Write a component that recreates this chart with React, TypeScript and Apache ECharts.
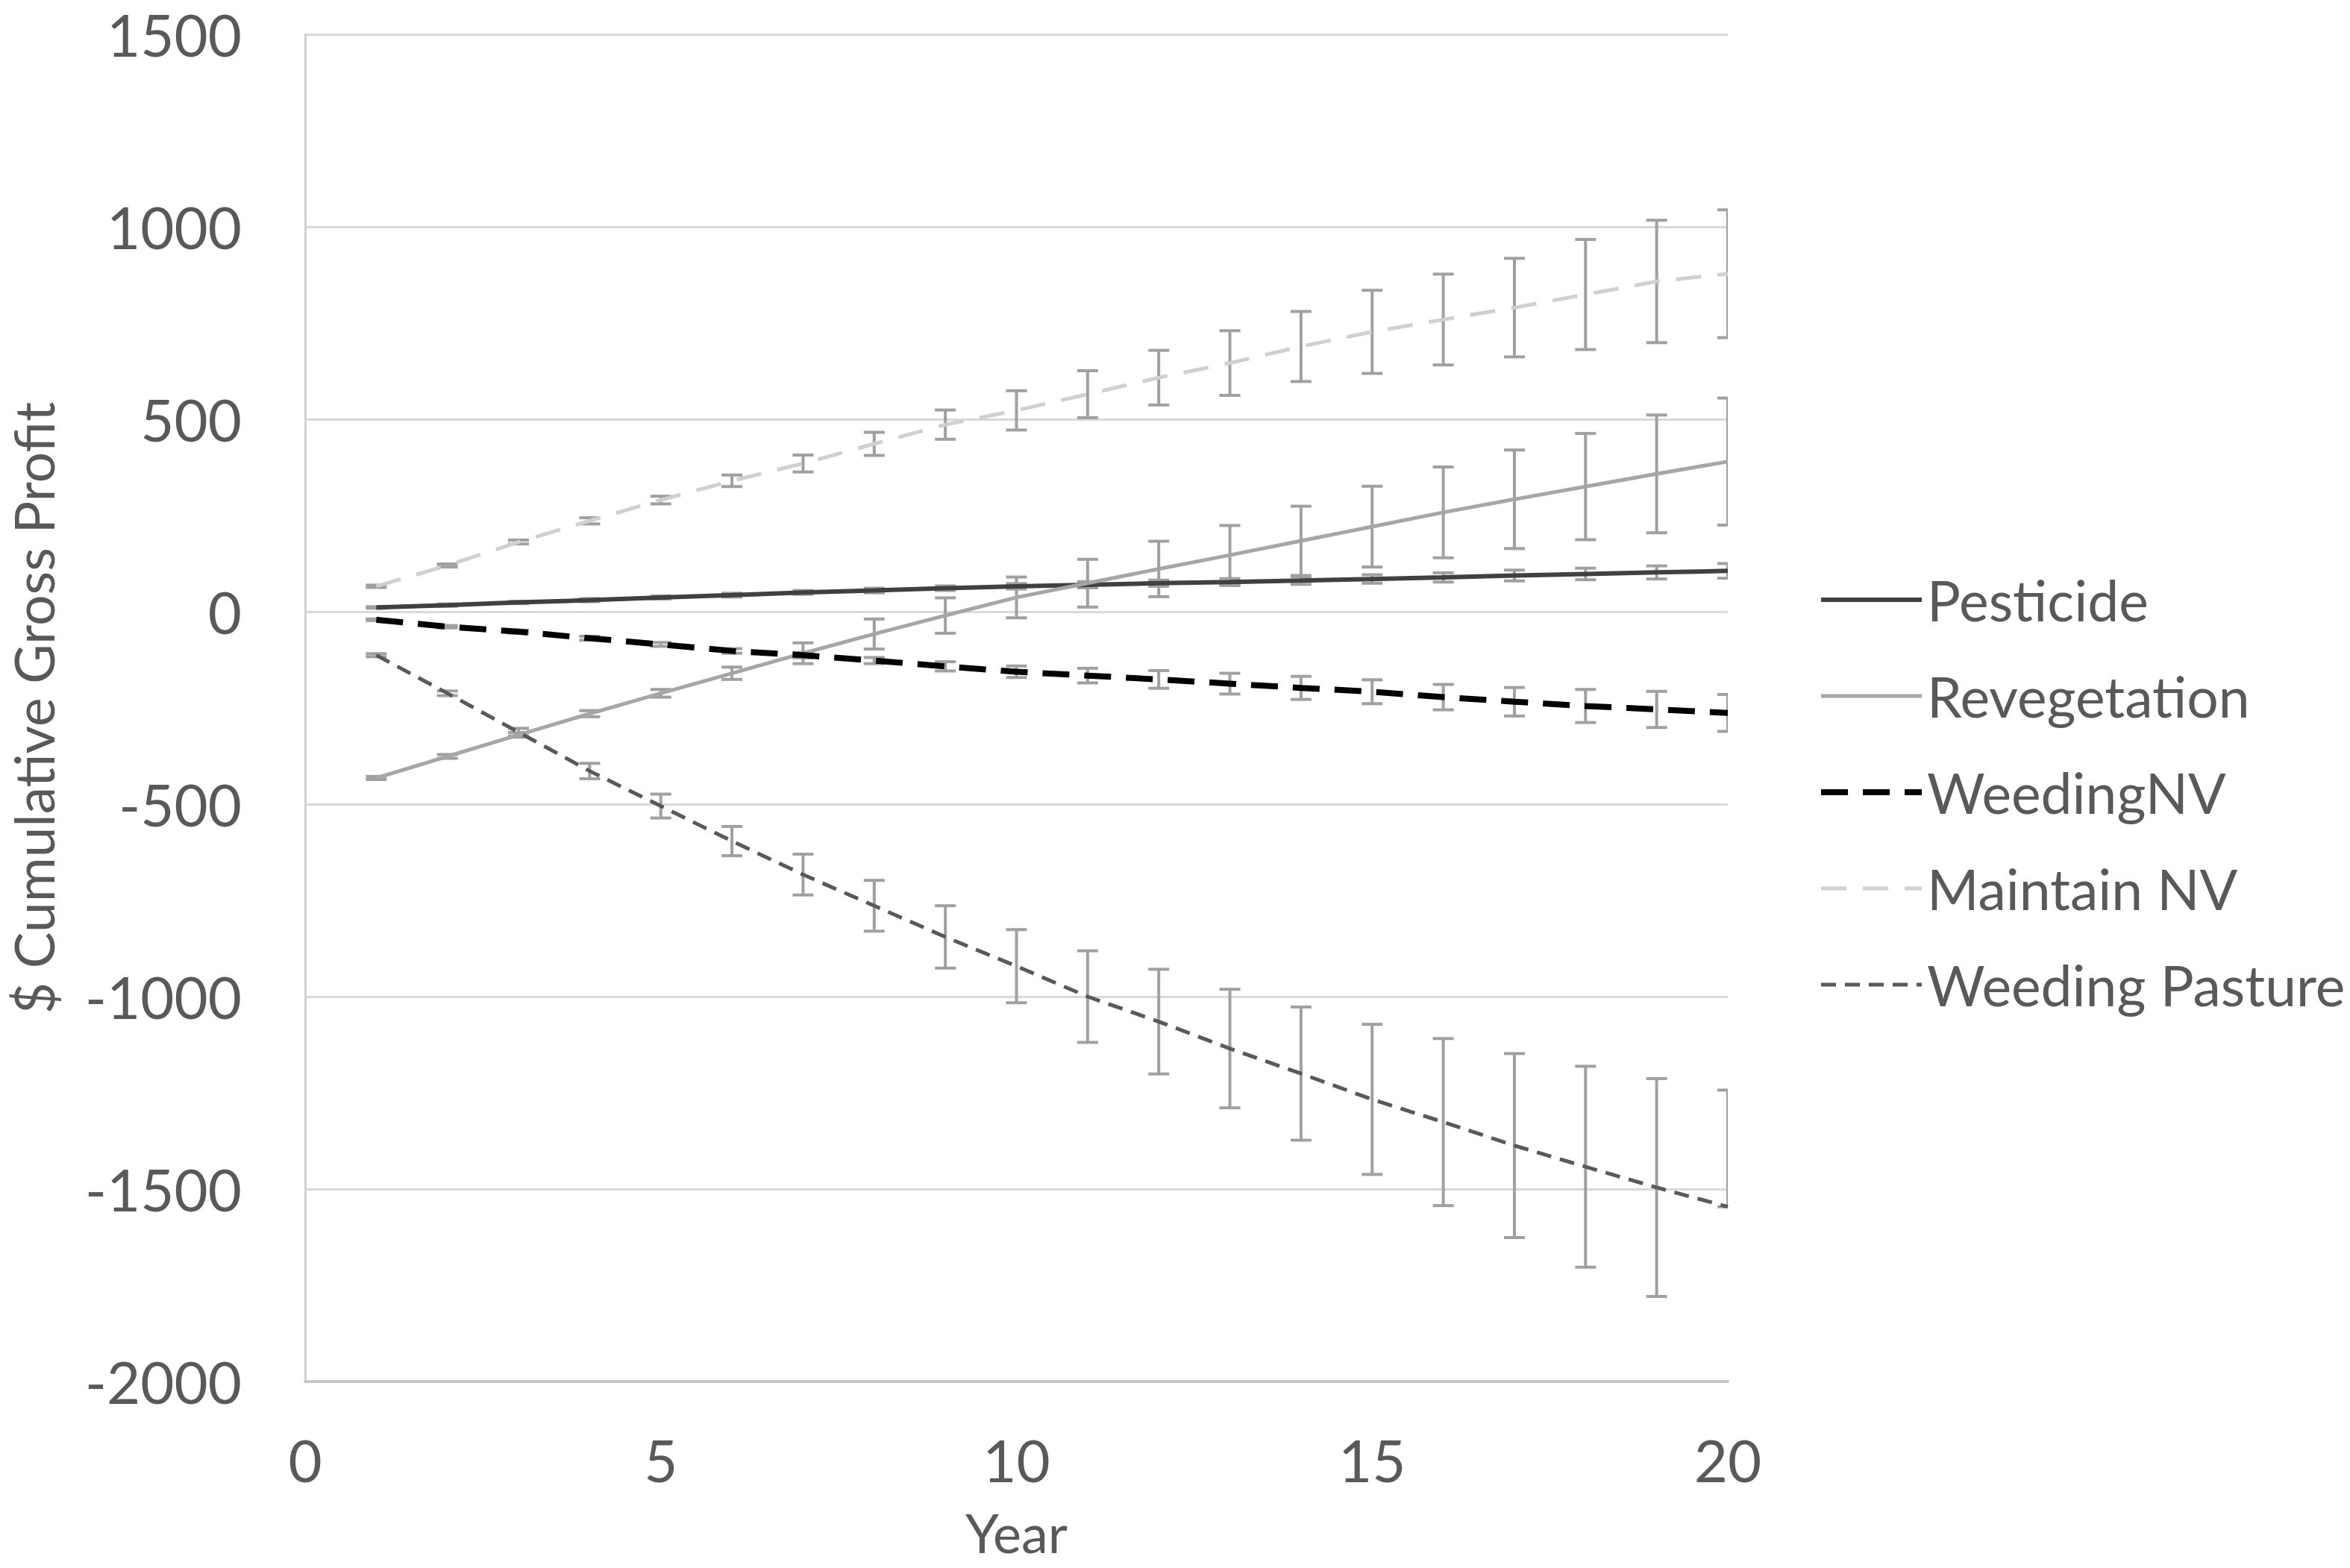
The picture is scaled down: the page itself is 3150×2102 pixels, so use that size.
import React, { useEffect, useRef } from "react";
import * as echarts from "echarts";

const years = [1, 2, 3, 4, 5, 6, 7, 8, 9, 10, 11, 12, 13, 14, 15, 16, 17, 18, 19, 20];

const pesticide = [11, 17, 24, 30, 37, 43, 50, 55, 61, 66, 70, 74, 77, 81, 85, 89, 94, 98, 102, 106];
const pesticideErr = [2, 3, 3, 4, 4, 5, 5, 6, 6, 7, 8, 8, 9, 10, 11, 12, 14, 15, 17, 19];

const revegetation = [-432, -376, -320, -265, -212, -160, -108, -58, -10, 37, 74, 111, 147, 184, 221, 258, 292, 325, 358, 390];
const revegetationErr = [4, 5, 6, 8, 10, 16, 27, 39, 46, 53, 62, 72, 77, 90, 105, 118, 128, 138, 153, 165];

const weedingNV = [-21, -39, -52, -69, -85, -102, -113, -127, -142, -156, -166, -176, -187, -198, -208, -222, -234, -245, -254, -263];
const weedingNVErr = [2, 3, 4, 5, 5, 6, 7, 8, 12, 15, 19, 23, 27, 30, 31, 33, 37, 43, 47, 48];

const maintainNV = [66, 120, 181, 236, 290, 340, 385, 436, 486, 523, 565, 608, 646, 689, 727, 759, 790, 824, 858, 878];
const maintainNVErr = [3, 4, 5, 8, 10, 15, 22, 30, 38, 51, 61, 71, 84, 91, 108, 118, 128, 143, 159, 166];

const weedingPasture = [-113, -212, -313, -414, -505, -596, -683, -764, -845, -921, -1000, -1065, -1135, -1200, -1267, -1326, -1387, -1442, -1496, -1546];
const weedingPastureErrUp = [4, 6, 10, 20, 31, 38, 53, 66, 81, 95, 119, 136, 154, 173, 195, 217, 239, 261, 283, 303];
const weedingPastureErrDown = [4, 6, 10, 20, 31, 38, 53, 66, 81, 95, 119, 136, 154, 173, 195, 217, 239, 261, 283, 0];

const yTicks = { min: -2000, max: 1500, interval: 500 };
const xTicks = { min: 0, max: 20, interval: 5 };

const FONT = "Lato, 'Open Sans', sans-serif";
const TEXT = "#595959";
const ERR = "#a0a0a0";

function errSeries(name: string, vals: number[], up: number[], down: number[]) {
  return {
    name: "err-" + name,
    type: "custom",
    clip: true,
    silent: true,
    z: 1,
    encode: { x: 0, y: [1, 2] },
    data: years.map((x, i) => [x, vals[i] - down[i], vals[i] + up[i]]),
    renderItem: (params: any, api: any) => {
      const x = api.value(0);
      const lo = api.coord([x, api.value(1)]);
      const hi = api.coord([x, api.value(2)]);
      const w = 14;
      const style = { stroke: ERR, lineWidth: 4 };
      return {
        type: "group",
        children: [
          { type: "line", shape: { x1: hi[0], y1: hi[1], x2: lo[0], y2: lo[1] }, style },
          { type: "line", shape: { x1: hi[0] - w, y1: hi[1], x2: hi[0] + w, y2: hi[1] }, style },
          { type: "line", shape: { x1: lo[0] - w, y1: lo[1], x2: lo[0] + w, y2: lo[1] }, style },
        ],
      };
    },
  };
}

function lineSeries(name: string, vals: number[], color: string, width: number, dash: any) {
  return {
    name,
    type: "line",
    symbol: "none",
    z: 3,
    data: years.map((x, i) => [x, vals[i]]),
    lineStyle: { color, width, type: dash, cap: "butt" },
    itemStyle: { color },
  };
}

export default function App() {
  const ref = useRef<HTMLDivElement>(null);
  useEffect(() => {
    document.body.style.margin = "0";
    const chart = echarts.init(ref.current!, undefined, { renderer: "svg" });
    chart.setOption({
      animation: false,
      backgroundColor: "#ffffff",
      textStyle: { fontFamily: FONT },
      grid: { left: 402, right: 834, top: 46, bottom: 250, containLabel: false },
      legend: {
        orient: "vertical",
        left: 2432,
        top: 758,
        itemWidth: 135,
        itemHeight: 10,
        itemGap: 47,
        selectedMode: false,
        itemStyle: { opacity: 0 },
        lineStyle: { width: "inherit" },
        data: ["Pesticide", "Revegetation", "WeedingNV", "Maintain NV", "Weeding Pasture"],
        textStyle: { color: TEXT, fontSize: 75, fontFamily: FONT, lineHeight: 82, padding: [0, 0, 0, 2] },
      },
      xAxis: {
        type: "value",
        min: xTicks.min,
        max: xTicks.max,
        interval: xTicks.interval,
        name: "Year",
        nameLocation: "middle",
        nameGap: 172,
        nameTextStyle: { color: TEXT, fontSize: 72, fontFamily: FONT, lineHeight: 60 },
        axisLine: { show: true, onZero: false, lineStyle: { color: "#c8c8c8", width: 4 } },
        axisTick: { show: false },
        axisLabel: { color: TEXT, fontSize: 78, margin: 66, fontFamily: FONT, formatter: (v: number) => String(v) },
        splitLine: { show: false },
      },
      yAxis: {
        type: "value",
        min: yTicks.min,
        max: yTicks.max,
        interval: yTicks.interval,
        name: "$ Cumulative Gross Profit",
        nameLocation: "middle",
        nameRotate: 90,
        nameGap: 328,
        nameTextStyle: { color: TEXT, fontSize: 73, fontFamily: FONT },
        axisLine: { show: true, onZero: false, lineStyle: { color: "#d0d0d0", width: 3 } },
        axisTick: { show: false },
        axisLabel: { color: TEXT, fontSize: 78, margin: 85, lineHeight: 68, fontFamily: FONT, formatter: (v: number) => String(v) },
        splitLine: { show: true, lineStyle: { color: "#d9d9d9", width: 3 } },
      },
      series: [
        errSeries("Pesticide", pesticide, pesticideErr, pesticideErr),
        errSeries("Revegetation", revegetation, revegetationErr, revegetationErr),
        errSeries("WeedingNV", weedingNV, weedingNVErr, weedingNVErr),
        errSeries("Maintain NV", maintainNV, maintainNVErr, maintainNVErr),
        errSeries("Weeding Pasture", weedingPasture, weedingPastureErrUp, weedingPastureErrDown),
        lineSeries("Pesticide", pesticide, "#404040", 6, "solid"),
        lineSeries("Revegetation", revegetation, "#a6a6a6", 5, "solid"),
        lineSeries("WeedingNV", weedingNV, "#000000", 8, [36, 20]),
        lineSeries("Maintain NV", maintainNV, "#d0d0d0", 5, [34, 22]),
        lineSeries("Weeding Pasture", weedingPasture, "#595959", 5, [20, 12]),
      ],
    });
    return () => chart.dispose();
  }, []);
  return <div ref={ref} style={{ width: 3150, height: 2102 }} />;
}
